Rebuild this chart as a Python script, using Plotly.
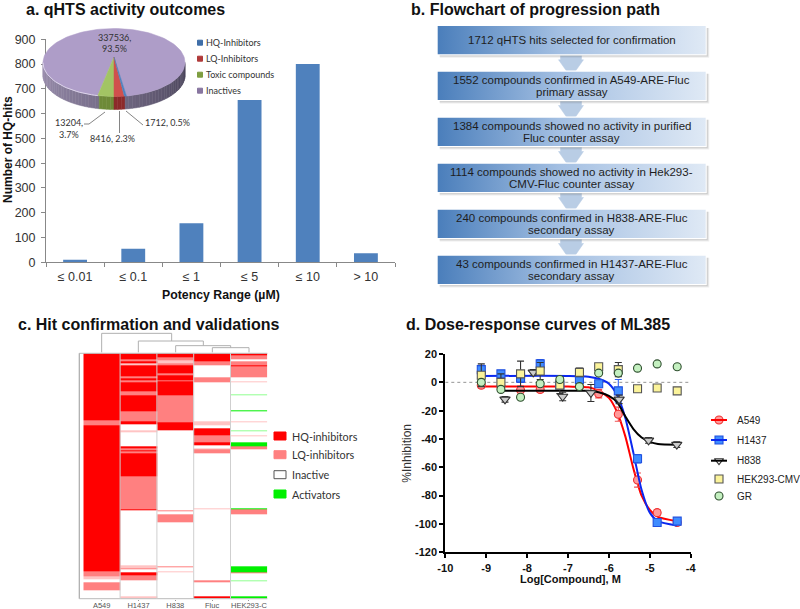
import numpy as np
import plotly.graph_objects as go

W, H = 800, 609

# ---------- panel a: bars
potency_labels = ["≤ 0.01", "≤ 0.1", "≤ 1", "≤ 5", "≤ 10", "> 10"]
hq_hits = [10, 55, 158, 655, 800, 37]

# ---------- panel a: pie
pie_names = ["HQ-Inhibitors", "LQ-Inhibitors", "Toxic compounds", "Inactives"]
pie_counts = [1712, 8416, 13204, 337536]
pie_top = ["#4F81BD", "#D0504D", "#A2C464", "#AE9DC8"]
pie_side = ["#2F5A8C", "#8C2A2A", "#6E8A38", "#6F6482"]

# ---------- panel b (each step is a list of lines)
flow_steps = [
    ["1712 qHTS hits selected for confirmation"],
    ["1552 compounds confirmed in A549-ARE-Fluc", "primary assay"],
    ["1384 compounds showed no activity in purified", "Fluc counter assay"],
    ["1114 compounds showed no activity in Hek293-", "CMV-Fluc counter assay"],
    ["240 compounds confirmed in H838-ARE-Fluc", "secondary assay"],
    ["43 compounds confirmed in H1437-ARE-Fluc", "secondary assay"],
]

# ---------- panel c: heatmap runs (row where the run ends, state)
# 0 inactive, 1 LQ, 2 HQ, 3 activator, 4 faint LQ, 5 faint activator
hm_columns = ["A549", "H1437", "H838", "Fluc", "HEK293-C"]
hm_a549 = [(202, 2), (215, 1), (655, 2), (668, 1), (678, 4), (688, 0), (710, 1), (736, 0)]
hm_h1437 = [(18, 2), (23, 1), (30, 2), (35, 4), (68, 2), (74, 1), (82, 2), (88, 1), (115, 2), (125, 1),
            (174, 2), (203, 1), (212, 2), (232, 0), (236, 4), (278, 0), (286, 2), (292, 1), (295, 2), (300, 1),
            (369, 2), (467, 1), (470, 2), (637, 0), (645, 4), (648, 1), (658, 0), (666, 2), (681, 1), (728, 0), (736, 4)]
hm_h838 = [(13, 2), (20, 1), (30, 4), (35, 1), (60, 2), (67, 1), (80, 2), (85, 1), (125, 2), (207, 1),
           (230, 2), (470, 0), (475, 1), (482, 0), (508, 1), (638, 0), (642, 1), (653, 0), (658, 4), (736, 0)]
hm_fluc = [(25, 2), (35, 1), (72, 0), (87, 1), (203, 0), (215, 4), (225, 0), (247, 2), (267, 1), (276, 2),
           (285, 0), (288, 4), (300, 1), (465, 0), (467, 4), (682, 0), (687, 1), (728, 0), (736, 2)]
hm_hek = [(7, 2), (17, 1), (25, 0), (35, 1), (40, 2), (73, 1), (85, 0), (88, 4), (122, 0), (127, 5), (170, 0),
          (175, 3), (203, 0), (206, 4), (215, 0), (217, 1), (230, 0), (233, 5), (246, 0), (250, 4), (268, 0),
          (279, 3), (287, 1), (465, 0), (469, 3), (482, 1), (638, 0), (656, 3), (660, 1), (681, 0), (684, 5),
          (707, 0), (709, 3), (728, 0), (736, 3)]
hm_colors = ["#FFFFFF", "#FF8080", "#FF0000", "#00F000", "#FFC4C4", "#90FF90"]

# ---------- panel d
dose_log = [-9.12, -8.64, -8.16, -7.68, -7.2, -6.72, -6.25, -5.77, -5.3, -4.82, -4.33]
a549_y = [-2, -3, -5.5, -5, -3, -3, -8, -22.5, -69, -92, -99]
a549_e = [2, 2, 3, 2, 2, 2, 3, 5, 5, 2, 2]
h1437_y = [9, 6, 3, 13, -2, 2, -1, -6, -54, -99, -98]
h1437_e = [3, 2, 3, 3, 2, 2, 2, 8, 3, 2, 2]
h838_x = [-8.54, -7.85, -7.13, -6.44, -5.75, -5.03, -4.34]
h838_y = [-12, 7, -10, -7.5, -12, -41, -44]
h838_e = [2, 2, 3, 6, 3, 2, 2]
hek_y = [5, 0, 6, 8, -2, 7, 11, 9, -4.5, -4, -6]
hek_e = [8, 6, 9, 6, 6, 3, 2, 5, 1, 1, 1]
gr_y = [0, -5, -10.5, -1, 2, -3, 6.5, 6.5, 10, 13, 11]

curve_x = [-9.1, -7, -6.5, -6.25, -6, -5.8, -5.6, -5.4, -5.2, -5, -4.8, -4.34]
curve_a549 = [-3, -3, -3.5, -6, -11, -21, -38, -61, -80, -90, -95, -98]
curve_h1437 = [4.5, 4.5, 4, 2.5, -1, -9, -25, -50, -76, -92, -98, -101]
curve_h838_x = [-8.64, -7, -6.5, -6.25, -6, -5.8, -5.6, -5.4, -5.2, -5, -4.8, -4.34]
curve_h838 = [-6, -6, -6, -7, -9.5, -14, -24, -33, -39, -42, -43.5, -44]

x_ticks_d = [-10, -9, -8, -7, -6, -5, -4]
y_ticks_d = [20, 0, -20, -40, -60, -80, -100, -120]

FONT = "Liberation Sans"
CAL = "Lato"


def px(x):
    return x / W


def py(y):
    return 1 - y / H


annots, shapes = [], []


def text(x, y, s, size=12, color="#222222", bold=False, anchor="left", family=FONT, angle=0):
    annots.append(dict(x=px(x), y=py(y), xref="paper", yref="paper", text=f"<b>{s}</b>" if bold else s,
                       showarrow=False, xanchor=anchor, yanchor="middle", align="center" if anchor == "center" else anchor,
                       textangle=angle, font=dict(family=family, size=size, color=color)))


def seg(x0, y0, x1, y1, color="#AAAAAA", width=1.0):
    shapes.append(dict(type="line", xref="paper", yref="paper", x0=px(x0), y0=py(y0), x1=px(x1), y1=py(y1),
                       line=dict(color=color, width=width)))


def box(x0, y0, x1, y1, fill, line=None):
    shapes.append(dict(type="rect", xref="paper", yref="paper", x0=px(x0), y0=py(y0), x1=px(x1), y1=py(y1),
                       fillcolor=fill, line=dict(color=line or fill, width=1)))


fig = go.Figure()

# ---- bars
fig.add_trace(go.Bar(x=potency_labels, y=hq_hits, marker=dict(color="#4F81BD", line=dict(width=0)), width=0.41,
                     xaxis="x", yaxis="y", hoverinfo="skip", showlegend=False))

# ---- heatmap
runs = [hm_a549, hm_h1437, hm_h838, hm_fluc, hm_hek]
edges = sorted({0} | {e for r in runs for e, _ in r})


def state_at(run, v):
    for e, s in run:
        if v < e:
            return s
    return 0


z = [[state_at(r, (edges[i] + edges[i + 1]) / 2) for r in runs] for i in range(len(edges) - 1)]
n = len(hm_colors)
cs = []
for i, c in enumerate(hm_colors):
    cs += [[i / n, c], [(i + 1) / n, c]]
fig.add_trace(go.Heatmap(x=hm_columns, y=edges, z=z, zmin=-0.5, zmax=n - 0.5, colorscale=cs, showscale=False,
                         xaxis="x2", yaxis="y2", hoverinfo="skip"))

# ---- dose-response
fig.add_trace(go.Scatter(x=[-10, -4], y=[0, 0], mode="lines", line=dict(color="#777777", width=0.8, dash="dot"),
                         xaxis="x3", yaxis="y3", hoverinfo="skip", showlegend=False))


def curve(x, y, color):
    fig.add_trace(go.Scatter(x=x, y=y, mode="lines", line=dict(color=color, width=2, shape="spline", smoothing=0.7),
                             xaxis="x3", yaxis="y3", hoverinfo="skip", showlegend=False))


def pts(x, y, e, symbol, fill, edge, ecolor, size=8):
    fig.add_trace(go.Scatter(x=x, y=y, mode="markers",
                             marker=dict(symbol=symbol, size=size, color=fill, line=dict(color=edge, width=1.1)),
                             error_y=dict(type="data", array=e, symmetric=True, color=ecolor, thickness=1.1, width=3.5)
                             if e else None,
                             xaxis="x3", yaxis="y3", hoverinfo="skip", showlegend=False))


curve(curve_x, curve_a549, "#FF0000")
pts(dose_log, a549_y, a549_e, "circle", "#FF9A9A", "#F03030", "#F05050")
curve(curve_x, curve_h1437, "#0A28F0")
pts(dose_log, h1437_y, h1437_e, "square", "#3F8CFF", "#2050E0", "#3060F0")
curve(curve_h838_x, curve_h838, "#000000")
pts(h838_x, h838_y, h838_e, "triangle-down", "#CCCCCC", "#333333", "#333333", 9)
pts(dose_log, hek_y, hek_e, "square", "#FBF39A", "#555555", "#333333")
pts(dose_log, gr_y, None, "circle", "#C4F0C0", "#2F4F2F", "#333333")

# ---- overlay scale, pixel units
OV = dict(xaxis="x4", yaxis="y4", hoverinfo="skip", showlegend=False)


def poly(xs, ys, fill, line=None, **kw):
    fig.add_trace(go.Scatter(x=xs, y=ys, mode="lines", fill="toself", fillcolor=fill,
                             line=dict(color=line or fill, width=0.5), **OV, **kw))


# pie drawn from the counts: elliptical top with a front rim
cx, cy, rx, ry, depth = 114.0, 62.5, 71.0, 34.0, 13.0
apex_y = 57.0
total = sum(pie_counts)
sweeps = [c / total * 2 * np.pi for c in pie_counts]
start = sweeps[0] + sweeps[1]
angs = [start]
for s in sweeps:
    angs.append(angs[-1] - s)


def ex(t):
    return cx + rx * np.sin(t)


def ey(t):
    return cy + ry * np.cos(t)


rim_t = np.linspace(-np.pi / 2, np.pi / 2, 61)


def rim_color(t, i):
    if i == 3:
        f = (t + np.pi / 2) / np.pi
        a, b = np.array([158, 146, 178]), np.array([72, 66, 88])
        c = a + (b - a) * f
        return "rgb(%d,%d,%d)" % tuple(c)
    return pie_side[i]


def slice_of(t):
    for i in range(3):
        if angs[i + 1] <= t <= angs[i]:
            return i
    return 3


for a, b in zip(rim_t[:-1], rim_t[1:]):
    m = (a + b) / 2
    i = slice_of(m)
    xs = [ex(a), ex(b), ex(b), ex(a), ex(a)]
    ys = [ey(a), ey(b), ey(b) + depth, ey(a) + depth, ey(a)]
    poly(xs, ys, rim_color(m, i))
for i in [3, 2, 1, 0]:
    tt = np.linspace(angs[i], angs[i + 1], 120 if i == 3 else 12)
    xs = [cx] + list(ex(tt)) + [cx]
    ys = [apex_y] + list(ey(tt)) + [apex_y]
    poly(xs, ys, pie_top[i])
hi_t = np.linspace(-np.pi / 2, angs[3], 30)
fig.add_trace(go.Scatter(x=ex(hi_t), y=ey(hi_t), mode="lines", line=dict(color="#DCD4EA", width=1), **OV))

# flowchart boxes with gradient fill
bx0, bx1 = 437.7, 705.7
tops = [26.0, 71.7, 117.7, 163.7, 209.7, 255.7]
bh = 28.3
acx = 571.0
for i, t in enumerate(tops):
    if i < len(tops) - 1:
        b = t + bh + 1
        nt = tops[i + 1] - 1
        hw, sw = 12.5, 10.5
        mid = b + 4.5
        poly([acx - sw, acx + sw, acx + sw, acx + hw, acx + 4, acx - 4, acx - hw, acx - sw, acx - sw],
             [b, b, mid, mid, nt + 1, nt + 1, mid, mid, b], "#B9CDE5")
for i, t in enumerate(tops):
    for off, alpha in [(3.5, 0.10), (2.5, 0.16), (1.5, 0.25)]:
        poly([bx0 + 2, bx1 + off, bx1 + off, bx0 + 2, bx0 + 2], [t + 2, t + 2, t + bh + off, t + bh + off, t + 2],
             f"rgba(90,90,90,{alpha})", line="rgba(0,0,0,0)")
    poly([bx0 - 1, bx1 + 1, bx1 + 1, bx0 - 1, bx0 - 1], [t - 1, t - 1, t + bh + 1, t + bh + 1, t - 1], "#FFFFFF")
    fig.add_trace(go.Scatter(x=[bx0, bx1, bx1, bx0, bx0], y=[t, t, t + bh, t + bh, t], mode="lines", fill="toself",
                             line=dict(width=0, color="rgba(0,0,0,0)"),
                             fillgradient=dict(type="horizontal", colorscale=[[0, "#4A7EBB"], [0.45, "#A3BFE2"], [1, "#DFE9F5"]]),
                             **OV))
    lines = flow_steps[i]
    offs = [0] if len(lines) == 1 else [-6, 6]
    for ln, o in zip(lines, offs):
        text((bx0 + bx1) / 2, t + bh / 2 + o, ln, 11.5, "#1E1E1E", anchor="center")

# ---- titles
text(23.5, 10, "a. qHTS activity outcomes", 16, "#111111", True)
text(408.5, 10, "b. Flowchart of progression path", 16, "#111111", True)
text(15.5, 324.5, "c. Hit confirmation and validations", 16, "#111111", True)
text(404, 324.5, "d. Dose-response curves of ML385", 16, "#111111", True)

# ---- panel a texts
text(8, 150, "Number of HQ-hits", 12, "#111111", True, "center", angle=-90)
text(220.7, 295, "Potency Range (µM)", 12.3, "#111111", True, "center")
text(115, 37, "337536,", 9, "#333333", anchor="center", family=CAL)
text(115, 48, "93.5%", 9, "#333333", anchor="center", family=CAL)
text(69, 123, "13204,", 9, "#333333", anchor="center", family=CAL)
text(69, 134.5, "3.7%", 9, "#333333", anchor="center", family=CAL)
text(113, 138.5, "8416, 2.3%", 9, "#333333", anchor="center", family=CAL)
text(143, 123, "1712, 0.5%", 9, "#333333", family=CAL)
seg(105, 112, 89, 124, "#666666", 0.8)
seg(89, 124, 84, 124, "#666666", 0.8)
seg(119.5, 111, 119.5, 133, "#666666", 0.8)
seg(126, 111, 143, 125, "#666666", 0.8)
for i, nm in enumerate(pie_names):
    yy = 42.7 + 16 * i
    box(197.5, yy - 2.5, 202.5, yy + 2.5, ["#3F6EA8", "#B03A3A", "#7E9E40", "#8876A0"][i])
    text(204, yy, nm, 9, "#333333", family=CAL)

# ---- panel c furniture
hx0 = 83.3
cw = 36.8
ht, hb = 353.3, 598.7
seg(79.3, ht, hx0 + 5 * cw, ht, "#BBBBBB", 1)
seg(79.3, ht, 79.3, hb, "#AAAAAA", 1.2)
seg(79.3, hb, hx0 + 5 * cw, hb, "#BBBBBB", 1)
for k in range(1, 5):
    seg(hx0 + k * cw, ht, hx0 + k * cw, hb, "#CFCFCF", 1)
Z = lambda v: v / 3
for a, b, c, d in [(305, 70, 515, 70), (305, 70, 305, 127), (515, 70, 515, 93),
                   (415, 93, 610, 93), (415, 93, 415, 127), (610, 93, 610, 107),
                   (527, 107, 692, 107), (527, 107, 527, 127), (692, 107, 692, 113),
                   (637, 113, 747, 113), (637, 113, 637, 127), (747, 113, 747, 127)]:
    seg(Z(a), 310 + Z(b), Z(c), 310 + Z(d), "#B0B0B0", 1)
for yy, c, nm in [(436, "#FF0000", "HQ-inhibitors"), (454.7, "#FF8080", "LQ-inhibitors"),
                  (474.7, "#FFFFFF", "Inactive"), (494, "#00F000", "Activators")]:
    box(274, yy - 4, 286, yy + 4, c, "#555555" if c == "#FFFFFF" else c)
    text(289.5, yy, nm, 10.8, "#333333", family=CAL)

# ---- panel d texts and legend
text(406.7, 453, "%Inhibition", 12, "#333333", anchor="center", angle=-90)
text(570.7, 579, "Log[Compound], M", 11, "#111111", True, "center")
lx0, lx1, tx, lmid = 711, 727, 734.5, 719
for yy, nm, col in [(420, "A549", "#FF0000"), (440, "H1437", "#0A28F0"), (460.7, "H838", "#000000"),
                    (479, "HEK293-CMV", None), (496, "GR", None)]:
    if col:
        seg(lx0, yy, lx1, yy, col, 2)
    text(tx, yy, nm, 10, "#222222")
for yy, sym, fillc, edgec in [(420, "circle", "#FF9A9A", "#F03030"), (440, "square", "#3F8CFF", "#2050E0"),
                              (460.7, "triangle-down", "#FFFFFF", "#333333"), (479, "square", "#FBF39A", "#555555"),
                              (496, "circle", "#C4F0C0", "#2F4F2F")]:
    fig.add_trace(go.Scatter(x=[lmid], y=[yy], mode="markers",
                             marker=dict(symbol=sym, size=8, color=fillc, line=dict(color=edgec, width=1.1)), **OV))

fig.update_layout(
    width=W, height=H, autosize=False, margin=dict(l=0, r=0, t=0, b=0),
    paper_bgcolor="white", plot_bgcolor="rgba(0,0,0,0)", barmode="overlay",
    annotations=annots, shapes=shapes,
    font=dict(family=FONT),
    xaxis=dict(domain=[px(46), px(395)], anchor="y", type="category", range=[-0.5, 5.5], showgrid=False, zeroline=False,
               showline=True, linecolor="#888888", linewidth=1, ticks="outside", ticklen=4, tickcolor="#888888",
               tickson="boundaries", ticklabelstandoff=3, tickfont=dict(size=12.5, color="#333333"), automargin=False),
    yaxis=dict(domain=[py(262.3), py(39.3)], anchor="x", range=[0, 900], dtick=100, showgrid=False, zeroline=False,
               showline=True, linecolor="#888888", linewidth=1, ticks="outside", ticklen=4, tickcolor="#888888",
               ticklabelstandoff=3, tickfont=dict(size=12.5, color="#333333"), automargin=False),
    xaxis2=dict(domain=[px(hx0), px(hx0 + 5 * cw)], anchor="y2", type="category", range=[-0.5, 4.5], showgrid=False,
                zeroline=False, showline=False, ticks="outside", ticklen=1, tickcolor="#999999", tickwidth=1,
                ticklabelstandoff=-2, tickfont=dict(size=7.5, color="#555555"), automargin=False),
    yaxis2=dict(domain=[py(hb), py(ht)], anchor="x2", range=[736, 0], showgrid=False, zeroline=False, showline=False,
                showticklabels=False, ticks="", automargin=False),
    xaxis3=dict(domain=[px(445.3), px(690.7)], anchor="y3", range=[-10, -4], tickmode="array", tickvals=x_ticks_d,
                ticktext=[str(v) for v in x_ticks_d], showgrid=False, zeroline=False,
                showline=True, linecolor="#000000", linewidth=2, ticks="outside", ticklen=4, tickwidth=2, tickcolor="#000000",
                tickfont=dict(size=11, color="#111111", weight="bold"), automargin=False),
    yaxis3=dict(domain=[py(552.3), py(354)], anchor="x3", range=[-120, 20], tickmode="array", tickvals=y_ticks_d,
                ticktext=[str(v) for v in y_ticks_d], showgrid=False, zeroline=False,
                showline=True, linecolor="#000000", linewidth=2, ticks="outside", ticklen=4, tickwidth=2, tickcolor="#000000",
                tickfont=dict(size=11, color="#111111", weight="bold"), automargin=False),
    xaxis4=dict(domain=[0, 1], anchor="y4", range=[0, W], visible=False, fixedrange=True),
    yaxis4=dict(domain=[0, 1], anchor="x4", range=[H, 0], visible=False, fixedrange=True),
)

fig.write_html("out.html", config=dict(displayModeBar=False),
               post_script="document.body.style.margin='0';document.body.style.overflow='hidden';")
